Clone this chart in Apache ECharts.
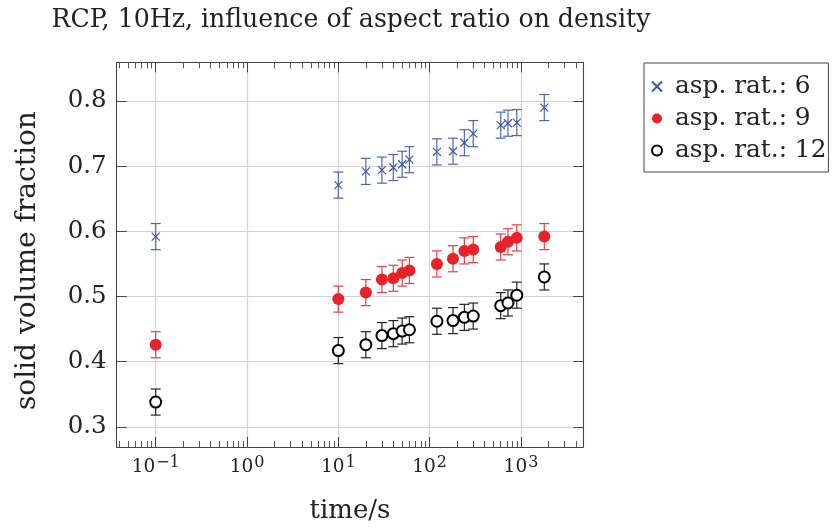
<!DOCTYPE html>
<html>
<head>
<meta charset="utf-8">
<script src="https://cdn.jsdelivr.net/npm/echarts@6/dist/echarts.min.js"></script>
<style>
html,body{margin:0;padding:0;background:#fff;}
#chart{width:832px;height:529px;}
</style>
</head>
<body>
<div id="chart"></div>
<script>
// ---- data ----
const times = [0.1, 10, 20, 30, 40, 50, 60, 120, 180, 240, 300, 600, 720, 900, 1800];
const asp6  = [0.592, 0.671, 0.692, 0.694, 0.698, 0.703, 0.710, 0.722, 0.723, 0.736, 0.750, 0.763, 0.766, 0.767, 0.790];
const asp9  = [0.426, 0.496, 0.506, 0.526, 0.528, 0.536, 0.540, 0.550, 0.558, 0.570, 0.572, 0.576, 0.584, 0.590, 0.592];
const asp12 = [0.338, 0.417, 0.426, 0.440, 0.443, 0.447, 0.449, 0.462, 0.463, 0.468, 0.470, 0.486, 0.490, 0.502, 0.530];
const err6  = [0.02, 0.02, 0.02, 0.02, 0.02, 0.02, 0.02, 0.02, 0.02, 0.02, 0.02, 0.02, 0.02, 0.02, 0.02];
const err9  = [0.02, 0.02, 0.02, 0.02, 0.02, 0.02, 0.02, 0.02, 0.02, 0.02, 0.02, 0.02, 0.02, 0.02, 0.02];
const err12 = [0.02, 0.02, 0.02, 0.02, 0.02, 0.02, 0.02, 0.02, 0.02, 0.02, 0.02, 0.02, 0.02, 0.02, 0.02];
const seriesNames = ['asp. rat.: 6', 'asp. rat.: 9', 'asp. rat.: 12'];
const yTicks = [0.3, 0.4, 0.5, 0.6, 0.7, 0.8];
const xMajorTicks = [0.1, 1, 10, 100, 1000];

const xMin = 0.0374, xMax = 4813;
const yMin = 0.269, yMax = 0.8595;

const FONT = 'DejaVu Serif';
const BLUE = '#3a57a8', BLUE_BAR = '#4c67b2';
const RED = '#e8222a', RED_BAR = '#ec3d43';
const BLACK = '#000', BLACK_BAR = '#222';

// minor tick positions (log10 space) for overlay axes
const lmin = Math.log10(xMin), lmax = Math.log10(xMax);
const minorLog = [];
for (let e = -2; e <= 3; e++) {
  for (let k = 2; k <= 9; k++) {
    const v = Math.log10(k * Math.pow(10, e));
    if (v > lmin && v < lmax) minorLog.push(v);
  }
}
const majorLog = xMajorTicks.map(v => Math.log10(v));

function pts(ys) { return times.map((t, i) => [t, ys[i]]); }
function bars(ys, es) { return times.map((t, i) => [t, ys[i] - es[i], ys[i] + es[i]]); }

function errSeries(ys, es, color) {
  return {
    type: 'custom',
    xAxisIndex: 0, yAxisIndex: 0,
    silent: true,
    z: 2,
    data: bars(ys, es),
    renderItem: function (params, api) {
      const lo = api.coord([api.value(0), api.value(1)]);
      const hi = api.coord([api.value(0), api.value(2)]);
      const w = 5;
      const st = { stroke: color, lineWidth: 1.2 };
      return {
        type: 'group',
        children: [
          { type: 'line', shape: { x1: lo[0], y1: lo[1], x2: hi[0], y2: hi[1] }, style: st },
          { type: 'line', shape: { x1: lo[0] - w, y1: lo[1], x2: lo[0] + w, y2: lo[1] }, style: st },
          { type: 'line', shape: { x1: hi[0] - w, y1: hi[1], x2: hi[0] + w, y2: hi[1] }, style: st }
        ]
      };
    }
  };
}

const option = {
  animation: false,
  backgroundColor: '#fff',
  textStyle: { fontFamily: FONT },
  title: {
    text: 'RCP, 10Hz, influence of aspect ratio on density',
    left: 351, top: 8, padding: 0, textAlign: 'center',
    textStyle: { fontFamily: FONT, fontSize: 25.2, fontWeight: 'normal', color: '#222' }
  },
  legend: {
    orient: 'vertical',
    left: 644, top: 63,
    padding: [11, 2, 9, 7],
    itemGap: 7,
    itemWidth: 26, itemHeight: 10,
    borderColor: '#444', borderWidth: 1, borderRadius: 0,
    textStyle: { fontFamily: FONT, fontSize: 24.8, color: '#222', lineHeight: 24 },
    data: [
      { name: seriesNames[0] },
      { name: seriesNames[1] },
      { name: seriesNames[2] }
    ]
  },
  grid: { left: 116.7, top: 62.3, right: 248.7, bottom: 79.7, containLabel: false },
  xAxis: [
    {
      type: 'log', logBase: 10, min: xMin, max: xMax, position: 'bottom',
      name: 'time/s', nameLocation: 'middle', nameGap: 51,
      nameTextStyle: { fontFamily: FONT, fontSize: 26, color: '#222' },
      axisLine: { show: true, onZero: false, lineStyle: { color: '#444', width: 1 } },
      axisTick: { show: true, inside: true, length: 10, lineStyle: { color: '#444', width: 1 } },
      minorTick: { show: false },
      splitLine: { show: true, lineStyle: { color: '#d3d3d3', width: 1.2 } },
      axisLabel: {
        show: true, margin: 8, showMinLabel: false, showMaxLabel: false,
        formatter: function (v) {
          const e = Math.round(Math.log10(v));
          return '{b|10}{s|' + (e < 0 ? '\u2212' + (-e) : e) + '}';
        },
        rich: {
          b: { fontFamily: FONT, fontSize: 18.5, color: '#222', lineHeight: 22, verticalAlign: 'bottom' },
          s: { fontFamily: FONT, fontSize: 16, color: '#222', verticalAlign: 'top', lineHeight: 15, padding: [0, 0, 0, 1] }
        }
      }
    },
    {
      type: 'value', min: lmin, max: lmax, position: 'bottom',
      axisLine: { show: false }, axisLabel: { show: false }, splitLine: { show: false },
      axisTick: { show: true, inside: true, length: 6, customValues: minorLog, lineStyle: { color: '#555', width: 1 } }
    },
    {
      type: 'value', min: lmin, max: lmax, position: 'top',
      axisLine: { show: true, onZero: false, lineStyle: { color: '#444', width: 1 } },
      axisLabel: { show: false }, splitLine: { show: false },
      axisTick: { show: true, inside: true, length: 10, customValues: majorLog, lineStyle: { color: '#444', width: 1 } }
    },
    {
      type: 'value', min: lmin, max: lmax, position: 'top',
      axisLine: { show: false }, axisLabel: { show: false }, splitLine: { show: false },
      axisTick: { show: true, inside: true, length: 6, customValues: minorLog, lineStyle: { color: '#555', width: 1 } }
    }
  ],
  yAxis: [
    {
      type: 'value', min: yMin, max: yMax, position: 'left',
      name: 'solid volume fraction', nameLocation: 'middle', nameRotate: 90, nameGap: 75,
      nameTextStyle: { fontFamily: FONT, fontSize: 28, color: '#222', padding: [0, 12, 0, 0] },
      axisLine: { show: true, onZero: false, lineStyle: { color: '#444', width: 1 } },
      axisTick: { show: true, inside: true, length: 10, customValues: yTicks, lineStyle: { color: '#444', width: 1 } },
      splitLine: { show: true, lineStyle: { color: '#d3d3d3', width: 1.2 } },
      axisLabel: {
        show: true, margin: 10, customValues: yTicks,
        fontFamily: FONT, fontSize: 24.5, color: '#222',
        formatter: v => v.toFixed(1)
      }
    },
    {
      type: 'value', min: yMin, max: yMax, position: 'right',
      axisLine: { show: true, onZero: false, lineStyle: { color: '#444', width: 1 } },
      axisTick: { show: true, inside: true, length: 10, customValues: yTicks, lineStyle: { color: '#444', width: 1 } },
      splitLine: { show: false }, axisLabel: { show: false }
    }
  ],
  series: [
    errSeries(asp6, err6, BLUE_BAR),
    errSeries(asp9, err9, RED_BAR),
    errSeries(asp12, err12, BLACK_BAR),
    {
      name: seriesNames[0], type: 'scatter', xAxisIndex: 0, yAxisIndex: 0, z: 3,
      data: pts(asp6),
      symbol: 'path://M0,0L10,10M10,0L0,10', symbolSize: 8,
      itemStyle: { color: BLUE, borderColor: BLUE, borderWidth: 1.2, opacity: 1 }
    },
    {
      name: seriesNames[1], type: 'scatter', xAxisIndex: 0, yAxisIndex: 0, z: 3,
      data: pts(asp9),
      symbol: 'circle', symbolSize: 12,
      itemStyle: { color: RED, opacity: 1 }
    },
    {
      name: seriesNames[2], type: 'scatter', xAxisIndex: 0, yAxisIndex: 0, z: 3,
      data: pts(asp12),
      symbol: 'emptyCircle', symbolSize: 11,
      itemStyle: { color: BLACK, borderColor: BLACK, borderWidth: 1, opacity: 1 }
    }
  ]
};

const chart = echarts.init(document.getElementById('chart'), null, { renderer: 'canvas' });
chart.setOption(option);
</script>
</body>
</html>
